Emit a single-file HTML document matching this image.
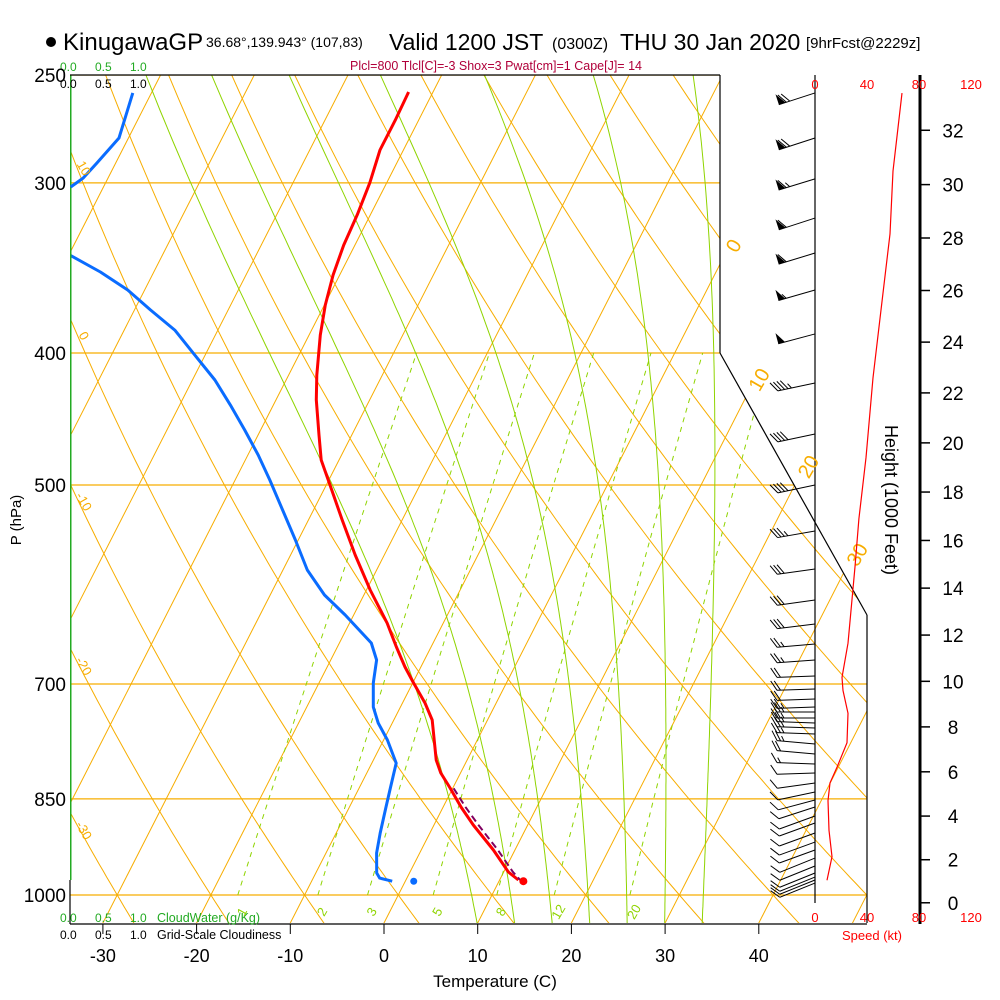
<!DOCTYPE html>
<html><head><meta charset="utf-8"><style>
html,body{margin:0;padding:0;background:#fff;}
svg{display:block;font-family:"Liberation Sans",sans-serif;}
</style></head><body>
<svg id="chart" width="1000" height="1000" viewBox="0 0 1000 1000" xmlns="http://www.w3.org/2000/svg">
<defs><clipPath id="plotclip"><polygon points="70,75 720,75 720,353 867,615 867,923 70,923"/></clipPath>
<clipPath id="rectclip"><rect x="70" y="75" width="797" height="848"/></clipPath></defs>
<g id="grid" clip-path="url(#plotclip)"></g>
<g id="series" clip-path="url(#rectclip)"></g>
<g id="frame"></g>
<g id="winds"></g>
<g id="labels">
<circle cx="51" cy="42" r="5" fill="#000"/>
<text x="63" y="50" font-size="24">KinugawaGP</text>
<text x="206" y="47" font-size="14">36.68°,139.943° (107,83)</text>
<text x="389" y="50" font-size="23">Valid 1200 JST</text>
<text x="552" y="49" font-size="16">(0300Z)</text>
<text x="620" y="50" font-size="23">THU 30 Jan 2020</text>
<text x="806" y="48" font-size="15">[9hrFcst@2229z]</text>
<text x="496" y="70" font-size="12.5" fill="#b0003a" text-anchor="middle">Plcl=800 Tlcl[C]=-3 Shox=3 Pwat[cm]=1 Cape[J]= 14</text>
<text x="60" y="71" font-size="12" fill="#22aa22">0.0</text>
<text x="95" y="71" font-size="12" fill="#22aa22">0.5</text>
<text x="130" y="71" font-size="12" fill="#22aa22">1.0</text>
<text x="60" y="88" font-size="12">0.0</text>
<text x="95" y="88" font-size="12">0.5</text>
<text x="130" y="88" font-size="12">1.0</text>
<text x="60" y="922" font-size="12" fill="#22aa22">0.0</text>
<text x="95" y="922" font-size="12" fill="#22aa22">0.5</text>
<text x="130" y="922" font-size="12" fill="#22aa22">1.0</text>
<text x="157" y="922" font-size="12.5" fill="#22aa22">CloudWater (g/Kg)</text>
<text x="60" y="939" font-size="12">0.0</text>
<text x="95" y="939" font-size="12">0.5</text>
<text x="130" y="939" font-size="12">1.0</text>
<text x="157" y="939" font-size="12.5">Grid-Scale Cloudiness</text>
<text x="495" y="987" font-size="17" text-anchor="middle">Temperature (C)</text>
<text transform="translate(21,520) rotate(-90)" font-size="15" text-anchor="middle">P (hPa)</text>
<text transform="translate(885,500) rotate(90)" font-size="18" text-anchor="middle">Height (1000 Feet)</text>
<text x="872" y="940" font-size="13" fill="#ff0000" text-anchor="middle">Speed (kt)</text>
</g>
<script>
// ---------------- data ----------------
const pLevels=[250,300,400,500,700,850,1000];
const tempTicks=[-30,-20,-10,0,10,20,30,40];
const isotherms=[-120,-110,-100,-90,-80,-70,-60,-50,-40,-30,-20,-10,0,10,20,30,40,50];
const isoLabels=[0,10,20,30];
const thetas=[-40,-30,-20,-10,0,10,20,30,40,50,60,70,80,90,100,110,120,130,140,150,160,170,180,190,200];
const thetaLabels=[10,0,-10,-20,-30];
const moistStart=[10,14,18,22,26,30,34];
const mixRatios=[1,2,3,5,8,12,20];
const tempP=[257.3,269.8,283.8,300,316.7,333.3,350.6,368.8,388,415.2,433,459.5,479.3,500,530.5,562.8,597.1,631.4,657.5,680.1,698.8,722.8,743.9,769.5,796,813.6,834.5,861.8,888.4,926.8,961.9,975];
const tempT=[-42.6,-42.5,-42.5,-41.8,-41.4,-41.2,-40.7,-39.9,-38.8,-37.0,-35.7,-33.5,-31.9,-29.6,-26.4,-23.1,-19.6,-16.0,-13.7,-11.7,-9.9,-7.6,-5.9,-4.6,-3.3,-2.1,-0.3,1.9,4.2,7.7,10.5,12.0];
const dewP=[260.8,308.8,338.9,348.8,359.6,371.9,384.8,401.4,418.7,436.7,455.6,475.3,495.8,521.6,548.7,577.3,602.2,622.9,653.1,672.2,698.8,727.8,747.7,769.5,800.1,833.1,861.8,900.5,931.5,963.5,971.8,977];
const dewT=[-83.6,-77.1,-69.9,-65.7,-61.8,-58.3,-54.6,-51.1,-47.6,-44.6,-41.7,-38.9,-36.3,-33.3,-30.3,-27.4,-24.2,-20.9,-16.6,-15.1,-14.2,-12.9,-11.5,-9.6,-7.4,-6.7,-6.1,-5.3,-4.6,-3.5,-2.9,-1.4];
const parcelP=[835,862,888,927,962,975];
const parcelT=[0.1,2.4,4.7,8.2,11.0,12.2];
const sfcP=977, sfcT=12.6, sfcTd=0.9;
const cloudP=[257.7,278.1,290.1,297.6,302.1];
const cloudFrac=[0.91,0.71,0.39,0.19,0.01];
const windP=[257.7,278.1,298,318.4,337.8,359.6,387.3,420.8,458.7,500,540.4,576.3,607.3,632.4,654.2,672.2,690.6,705.9,718,727.8,733.9,741.4,747.7,754.1,761.7,774.7,787.9,801.3,813.6,827.5,840.2,851.6,861.8,875,885.4,900.5,914.4,926.8,939.5,952.2,963.5,970.1,975,980];
const windDir=[252,252,253,252,253,254,255,258,258,258,260,262,262,263,265,266,268,268,268,268,270,270,272,272,272,275,275,272,268,262,258,255,252,250,250,250,250,250,248,248,248,248,248,248];
const windSpd=[70,70,65,60,60,55,50,45,40,40,35,30,30,30,25,25,20,20,20,25,25,25,25,25,25,25,20,15,10,10,10,10,10,10,10,10,10,10,10,10,10,10,10,10];
const profH=[33.35,30.5,28.15,25.9,22.6,19.4,16.9,14.9,11.65,10.17,9.6,8.6,7.3,6.2,5.5,4.7,3.35,2.14,1.05];
const profSpd=[66.9,60,57.7,52.3,44.6,39.2,33.8,30.8,25.4,20.8,21.5,25.4,24.6,16.9,11.5,10,10.8,13.1,9.2];
const heightTicks=[0,2,4,6,8,10,12,14,16,18,20,22,24,26,28,30,32];
const speedTicks=[0,40,80,120];
// ---------------- axes ----------------
const NS='http://www.w3.org/2000/svg';
function yP(p){return 75+591.5*Math.log(p/250);}
function xTP(T,p){return 384+9.37*T+0.51*(923-yP(p));}
function xSpd(s){return 815+1.3*s;}
function pOfH(kft){const h=kft*304.8;return 1013.25*Math.pow(1-6.5e-3*h/288.15,5.2559);}
function mk(tag,attrs,parent){const e=document.createElementNS(NS,tag);for(const k in attrs)e.setAttribute(k,attrs[k]);parent.appendChild(e);return e;}
function path(pts){return pts.map((q,i)=>(i?'L':'M')+q[0].toFixed(1)+','+q[1].toFixed(1)).join('');}
const grid=document.getElementById('grid'),series=document.getElementById('series'),frame=document.getElementById('frame'),winds=document.getElementById('winds'),labels=document.getElementById('labels');
const OR='#f7ad00',GR='#8fd400';
pLevels.forEach(p=>{const l=mk('line',{x1:70,x2:867,y1:yP(p),y2:yP(p),stroke:OR,'stroke-width':1.2},grid);

});
isotherms.forEach(T=>{const l=mk('line',{x1:xTP(T,1050),y1:yP(1050),x2:xTP(T,200),y2:yP(200),stroke:OR,'stroke-width':1},grid);

});
thetas.forEach(th=>{const pts=[];for(let p=1060;p>=240;p-=10){const T=(th+273.15)*Math.pow(p/1000,0.2857)-273.15;pts.push([xTP(T,p),yP(p)]);}
const e=mk('path',{d:path(pts),fill:'none',stroke:OR,'stroke-width':1},grid);

});
function es(T){return 6.112*Math.exp(17.67*T/(T+243.5));}
moistStart.forEach(T0=>{let T=T0;const pts=[];for(let p=1050;p>=245;p-=5){pts.push([xTP(T,p),yP(p)]);const Tk=T+273.15,e=es(T),rs=0.622*e/(p-e);const dTdp=(287*Tk+2.5e6*rs)/(p*(1004+2.5e6*2.5e6*rs*0.622/(287*Tk*Tk)));T-=dTdp*5;}
const e=mk('path',{d:path(pts),fill:'none',stroke:GR,'stroke-width':1},grid);

});
function tdOf(w,p){const e=w*p/(622+w);const L=Math.log(e/6.112);return 243.5*L/(17.67-L);}
mixRatios.forEach(w=>{const pts=[];for(let p=1000;p>=400;p-=10)pts.push([xTP(tdOf(w,p),p),yP(p)]);
const e=mk('path',{d:path(pts),fill:'none',stroke:GR,'stroke-width':1,'stroke-dasharray':'5,5'},grid);


const t=mk('text',{transform:`translate(${xTP(tdOf(w,1000),1000)+8},${yP(1000)+19}) rotate(-60)`,'font-size':13,fill:GR,'text-anchor':'middle'},labels);t.textContent=w;

});
function boundX(y){if(y<353)return 720;if(y<615)return 720+(y-353)*147/262;return 867;}
isoLabels.forEach(T=>{let y=353;for(let yy=120;yy<615;yy+=1){const p=250*Math.exp((yy-75)/591.5);if(xTP(T,p)<=boundX(yy)){y=yy;break;}}
const p=250*Math.exp((y-75)/591.5);const t=mk('text',{transform:`translate(${xTP(T,p)+20},${y-16}) rotate(-60)`,'font-size':20,fill:OR,'text-anchor':'middle'},labels);t.textContent=T;

});
thetaLabels.forEach(th=>{let y=0;for(let p=250;p<=1050;p+=1){const T=(th+273.15)*Math.pow(p/1000,0.2857)-273.15;if(xTP(T,p)>=70){y=yP(p);break;}}
const t=mk('text',{transform:`translate(80,${y+20}) rotate(60)`,'font-size':13,fill:OR,'text-anchor':'middle'},labels);t.textContent=th;

});
function line(P,T,attrs,name){const pts=P.map((p,i)=>[xTP(T[i],p),yP(p)]);const e=mk('path',Object.assign({d:path(pts),fill:'none'},attrs),series);

}
line(dewP,dewT,{stroke:'#0a6cff','stroke-width':3,'stroke-linejoin':'round'},'dewpoint-line');
line(tempP,tempT,{stroke:'#ff0000','stroke-width':3,'stroke-linejoin':'round'},'temperature-line');
line(parcelP,parcelT,{stroke:'#800060','stroke-width':2,'stroke-dasharray':'7,4'},'parcel-line');
const cw=mk('line',{x1:70,x2:70,y1:75,y2:880,stroke:'#22aa22','stroke-width':3},series);


const cl=mk('path',{d:path(cloudP.map((p,i)=>[70+69*cloudFrac[i],yP(p)])),fill:'none',stroke:'#0a6cff','stroke-width':3},series);


const d1=mk('circle',{cx:xTP(sfcT,sfcP),cy:yP(sfcP),r:4,fill:'#ff0000'},labels);


const d2=mk('circle',{cx:xTP(sfcTd,sfcP),cy:yP(sfcP),r:3.5,fill:'#0a6cff'},labels);


[[70,75,720,75],[720,75,720,353],[720,353,867,615],[867,615,867,923],[70,880,70,924],[70,924,867,924],[815,75,815,903]].forEach(s=>{const l=mk('line',{x1:s[0],y1:s[1],x2:s[2],y2:s[3],stroke:'#000','stroke-width':1.2},frame);

});
const ha=mk('line',{x1:920,y1:75,x2:920,y2:924,stroke:'#000','stroke-width':3},frame);


pLevels.forEach(p=>{const t=mk('text',{x:66,y:yP(p)+7,'font-size':19,'text-anchor':'end'},labels);t.textContent=p;

});
tempTicks.forEach(T=>{const x=384+9.37*T;mk('line',{x1:x,x2:x,y1:924,y2:934,stroke:'#000'},frame);const t=mk('text',{x:x,y:962,'font-size':18,'text-anchor':'middle'},labels);t.textContent=T;

});
heightTicks.forEach(h=>{const y=yP(pOfH(h));mk('line',{x1:920,x2:930,y1:y,y2:y,stroke:'#000','stroke-width':1.5},frame);const t=mk('text',{x:953,y:y+7,'font-size':19,'text-anchor':'middle'},labels);t.textContent=h;

});
speedTicks.forEach(s=>{[89,922].forEach(y=>{const t=mk('text',{x:xSpd(s),y:y,'font-size':13,fill:'#ff0000','text-anchor':'middle'},labels);t.textContent=s;

});});
const sp=mk('path',{d:path(profH.map((h,i)=>[xSpd(profSpd[i]),yP(pOfH(h))])),fill:'none',stroke:'#ff0000','stroke-width':1.2},series.parentNode);


windP.forEach((p,i)=>{const g=mk('g',{},winds);


const a=windDir[i]*Math.PI/180,d=[Math.sin(a),-Math.cos(a)],pr=[-d[1],d[0]],bx=815,by=yP(p),L=38;
const tip=[bx+L*d[0],by+L*d[1]];mk('line',{x1:bx,y1:by,x2:tip[0],y2:tip[1],stroke:'#000','stroke-width':1},g);
let s=Math.round(windSpd[i]/5)*5,pos=0;const P=k=>[tip[0]-k*d[0],tip[1]-k*d[1]];
while(s>=50){const A=P(pos),B=P(pos+7);mk('polygon',{points:`${A[0]},${A[1]} ${B[0]},${B[1]} ${A[0]+11*pr[0]},${A[1]+11*pr[1]}`,fill:'#000'},g);pos+=8;s-=50;}
while(s>=10){const A=P(pos);mk('line',{x1:A[0],y1:A[1],x2:A[0]+9.5*pr[0]+6*d[0],y2:A[1]+9.5*pr[1]+6*d[1],stroke:'#000'},g);pos+=3.5;s-=10;}
if(s>=5){const A=P(pos);mk('line',{x1:A[0],y1:A[1],x2:A[0]+5*pr[0]+3*d[0],y2:A[1]+5*pr[1]+3*d[1],stroke:'#000'},g);}
});
</script>
</svg>
</body></html>
